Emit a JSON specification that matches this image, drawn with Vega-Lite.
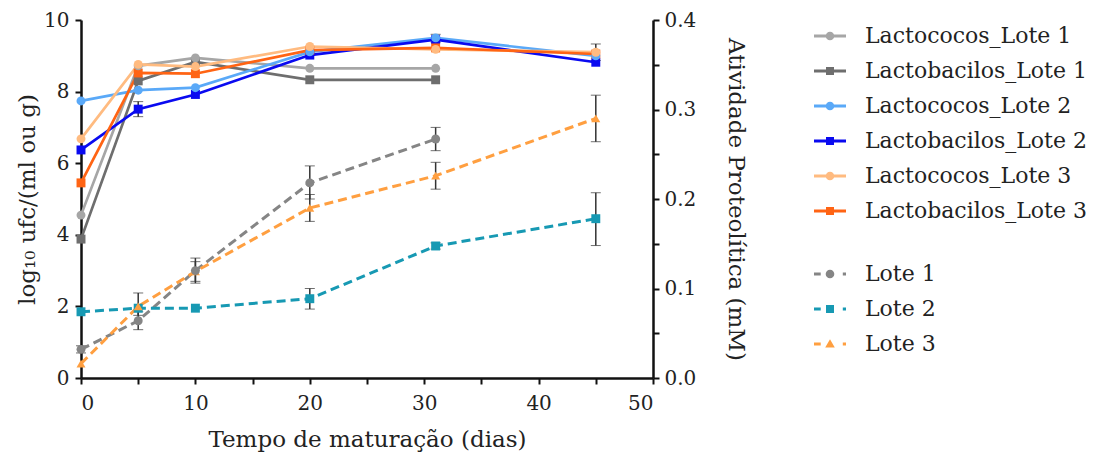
{
  "$schema": "https://vega.github.io/schema/vega-lite/v6.json",
  "width": 572,
  "height": 358,
  "autosize": {"type": "none"},
  "padding": {"left": 81, "top": 20, "right": 448, "bottom": 83},
  "background": "white",
  "config": {
    "font": "DejaVu Serif",
    "view": {"stroke": null},
    "axis": {
      "grid": false,
      "domainColor": "#111",
      "domainWidth": 2.5,
      "tickColor": "#111",
      "tickWidth": 2,
      "tickSize": 6,
      "labelFont": "DejaVu Serif",
      "labelFontSize": 20,
      "labelColor": "#222",
      "titleFont": "DejaVu Serif",
      "titleFontSize": 23,
      "titleFontWeight": "normal",
      "titleColor": "#222"
    },
    "legend": {
      "labelFont": "DejaVu Serif",
      "labelFontSize": 22,
      "labelColor": "#222",
      "labelLimit": 400,
      "symbolSize": 1024,
      "rowPadding": 8,
      "labelOffset": 19,
      "orient": "right",
      "offset": 67,
      "title": null,
      "layout": {"right": {"direction": "vertical", "anchor": "start", "margin": 36}}
    }
  },
  "datasets": {
    "bact": [
      {"series": "Lactococos_Lote 1", "day": 0, "v": 4.55},
      {"series": "Lactococos_Lote 1", "day": 5, "v": 8.72},
      {"series": "Lactococos_Lote 1", "day": 10, "v": 8.94},
      {"series": "Lactococos_Lote 1", "day": 20, "v": 8.65},
      {"series": "Lactococos_Lote 1", "day": 31, "v": 8.65},
      {"series": "Lactobacilos_Lote 1", "day": 0, "v": 3.88},
      {"series": "Lactobacilos_Lote 1", "day": 5, "v": 8.3},
      {"series": "Lactobacilos_Lote 1", "day": 10, "v": 8.83},
      {"series": "Lactobacilos_Lote 1", "day": 20, "v": 8.33},
      {"series": "Lactobacilos_Lote 1", "day": 31, "v": 8.33},
      {"series": "Lactococos_Lote 2", "day": 0, "v": 7.74},
      {"series": "Lactococos_Lote 2", "day": 5, "v": 8.04},
      {"series": "Lactococos_Lote 2", "day": 10, "v": 8.11},
      {"series": "Lactococos_Lote 2", "day": 20, "v": 9.11},
      {"series": "Lactococos_Lote 2", "day": 31, "v": 9.5, "lo": 9.38, "hi": 9.6},
      {"series": "Lactococos_Lote 2", "day": 45, "v": 9.0},
      {"series": "Lactobacilos_Lote 2", "day": 0, "v": 6.37},
      {"series": "Lactobacilos_Lote 2", "day": 5, "v": 7.51, "lo": 7.3, "hi": 7.72},
      {"series": "Lactobacilos_Lote 2", "day": 10, "v": 7.92},
      {"series": "Lactobacilos_Lote 2", "day": 20, "v": 9.02},
      {"series": "Lactobacilos_Lote 2", "day": 31, "v": 9.45},
      {"series": "Lactobacilos_Lote 2", "day": 45, "v": 8.82},
      {"series": "Lactococos_Lote 3", "day": 0, "v": 6.68},
      {"series": "Lactococos_Lote 3", "day": 5, "v": 8.76},
      {"series": "Lactococos_Lote 3", "day": 10, "v": 8.7},
      {"series": "Lactococos_Lote 3", "day": 20, "v": 9.26},
      {"series": "Lactococos_Lote 3", "day": 31, "v": 9.18},
      {"series": "Lactococos_Lote 3", "day": 45, "v": 9.1, "lo": 8.87, "hi": 9.33},
      {"series": "Lactobacilos_Lote 3", "day": 0, "v": 5.45},
      {"series": "Lactobacilos_Lote 3", "day": 5, "v": 8.52},
      {"series": "Lactobacilos_Lote 3", "day": 10, "v": 8.5},
      {"series": "Lactobacilos_Lote 3", "day": 20, "v": 9.16},
      {"series": "Lactobacilos_Lote 3", "day": 31, "v": 9.22},
      {"series": "Lactobacilos_Lote 3", "day": 45, "v": 9.05}
    ],
    "prot": [
      {"lote": "Lote 1", "day": 0, "v": 0.032, "lo": 0.028, "hi": 0.036},
      {"lote": "Lote 1", "day": 5, "v": 0.064, "lo": 0.054, "hi": 0.074},
      {"lote": "Lote 1", "day": 10, "v": 0.12, "lo": 0.106, "hi": 0.134},
      {"lote": "Lote 1", "day": 20, "v": 0.218, "lo": 0.2, "hi": 0.237},
      {"lote": "Lote 1", "day": 31, "v": 0.267, "lo": 0.254, "hi": 0.28},
      {"lote": "Lote 2", "day": 0, "v": 0.074},
      {"lote": "Lote 2", "day": 5, "v": 0.078},
      {"lote": "Lote 2", "day": 10, "v": 0.078},
      {"lote": "Lote 2", "day": 20, "v": 0.0886, "lo": 0.077, "hi": 0.1},
      {"lote": "Lote 2", "day": 31, "v": 0.1475, "lo": 0.144, "hi": 0.151},
      {"lote": "Lote 2", "day": 45, "v": 0.178, "lo": 0.148, "hi": 0.207},
      {"lote": "Lote 3", "day": 0, "v": 0.016},
      {"lote": "Lote 3", "day": 5, "v": 0.08, "lo": 0.07, "hi": 0.095},
      {"lote": "Lote 3", "day": 10, "v": 0.119, "lo": 0.108, "hi": 0.13},
      {"lote": "Lote 3", "day": 20, "v": 0.19, "lo": 0.175, "hi": 0.205},
      {"lote": "Lote 3", "day": 31, "v": 0.226, "lo": 0.211, "hi": 0.241},
      {"lote": "Lote 3", "day": 45, "v": 0.29, "lo": 0.264, "hi": 0.316}
    ]
  },
  "layer": [
    {
      "data": {"name": "bact"},
      "layer": [
        {
          "transform": [{"filter": "isValid(datum.lo)"}],
          "mark": {"type": "errorbar", "ticks": {"size": 10, "color": "#333", "strokeWidth": 1.5}, "rule": {"color": "#333", "strokeWidth": 1.5}},
          "encoding": {
            "x": {"field": "day", "type": "quantitative"},
            "y": {"field": "lo", "type": "quantitative", "title": "log₁₀ ufc/(ml ou g)"},
            "y2": {"field": "hi"}
          }
        },
        {
          "mark": {"type": "line", "strokeWidth": 2.7},
          "encoding": {
            "x": {"field": "day", "type": "quantitative"},
            "y": {"field": "v", "type": "quantitative", "title": "log₁₀ ufc/(ml ou g)"},
            "color": {"field": "series", "type": "nominal"},
            "detail": {"field": "series"}
          }
        },
        {
          "transform": [{"filter": "indexof(datum.series, 'Lactobacilos') >= 0"}],
          "mark": {"type": "point", "shape": "square", "filled": true, "size": 80, "opacity": 1},
          "encoding": {
            "x": {"field": "day", "type": "quantitative"},
            "y": {"field": "v", "type": "quantitative", "title": "log₁₀ ufc/(ml ou g)"},
            "color": {"field": "series", "type": "nominal"}
          }
        },
        {
          "transform": [{"filter": "indexof(datum.series, 'Lactococos') >= 0"}],
          "mark": {"type": "point", "shape": "circle", "filled": true, "size": 80, "opacity": 1},
          "encoding": {
            "x": {"field": "day", "type": "quantitative", "title": "Tempo de maturação (dias)", "scale": {"domain": [0, 50], "nice": false}, "axis": {"values": [0, 5, 10, 15, 20, 25, 30, 35, 40, 45, 50], "labelExpr": "datum.value % 10 == 0 ? datum.label : ''", "labelPadding": 9, "titlePadding": 15}},
            "y": {"field": "v", "type": "quantitative", "title": "log₁₀ ufc/(ml ou g)", "scale": {"domain": [0, 10], "nice": false}, "axis": {"values": [0, 1, 2, 3, 4, 5, 6, 7, 8, 9, 10], "labelExpr": "datum.value % 2 == 0 ? datum.label : ''", "labelPadding": 6, "titlePadding": 4}},
            "color": {
              "field": "series", "type": "nominal",
              "scale": {"domain": ["Lactococos_Lote 1", "Lactobacilos_Lote 1", "Lactococos_Lote 2", "Lactobacilos_Lote 2", "Lactococos_Lote 3", "Lactobacilos_Lote 3"], "range": ["#a6a6a6", "#6e6e6e", "#5aa9f8", "#0a0af0", "#ffbb80", "#ff6414"]},
              "legend": {
                "symbolSize": 1024,
                "encoding": {
                  "symbols": {
                    "shape": {"value": {"expr": "indexof(datum.value, 'Lactococos') >= 0 ? 'M-1,-0.09H1V0.09H-1Z M-0.27,0A0.27,0.27,0,1,1,0.27,0A0.27,0.27,0,1,1,-0.27,0Z' : 'M-1,-0.09H1V0.09H-1Z M-0.25,-0.25H0.25V0.25H-0.25Z'"}},
                    "size": {"value": 1024},
                    "strokeWidth": {"value": 0},
                    "fill": {"value": {"expr": "datum.value == 'Lactococos_Lote 1' ? '#a6a6a6' : datum.value == 'Lactobacilos_Lote 1' ? '#6e6e6e' : datum.value == 'Lactococos_Lote 2' ? '#5aa9f8' : datum.value == 'Lactobacilos_Lote 2' ? '#0a0af0' : datum.value == 'Lactococos_Lote 3' ? '#ffbb80' : '#ff6414'"}},
                    "opacity": {"value": 1}
                  }
                }
              }
            }
          }
        }
      ]
    },
    {
      "data": {"name": "prot"},
      "layer": [
        {
          "transform": [{"filter": "isValid(datum.lo)"}],
          "mark": {"type": "errorbar", "ticks": {"size": 10, "color": "#333", "strokeWidth": 1.5}, "rule": {"color": "#333", "strokeWidth": 1.5}},
          "encoding": {
            "x": {"field": "day", "type": "quantitative"},
            "y": {"field": "lo", "type": "quantitative", "title": "Atividade Proteolítica (mM)"},
            "y2": {"field": "hi"}
          }
        },
        {
          "mark": {"type": "line", "strokeWidth": 3, "strokeDash": [9, 5]},
          "encoding": {
            "x": {"field": "day", "type": "quantitative"},
            "y": {"field": "v", "type": "quantitative", "title": "Atividade Proteolítica (mM)"},
            "color": {"field": "lote", "type": "nominal"},
            "detail": {"field": "lote"}
          }
        },
        {
          "transform": [{"filter": "datum.lote == 'Lote 2'"}],
          "mark": {"type": "point", "shape": "square", "filled": true, "size": 80, "opacity": 1},
          "encoding": {
            "x": {"field": "day", "type": "quantitative"},
            "y": {"field": "v", "type": "quantitative", "title": "Atividade Proteolítica (mM)"},
            "color": {"field": "lote", "type": "nominal"}
          }
        },
        {
          "transform": [{"filter": "datum.lote == 'Lote 3'"}],
          "mark": {"type": "point", "shape": "triangle-up", "filled": true, "size": 80, "opacity": 1},
          "encoding": {
            "x": {"field": "day", "type": "quantitative"},
            "y": {"field": "v", "type": "quantitative", "title": "Atividade Proteolítica (mM)"},
            "color": {"field": "lote", "type": "nominal"}
          }
        },
        {
          "transform": [{"filter": "datum.lote == 'Lote 1'"}],
          "mark": {"type": "point", "shape": "circle", "filled": true, "size": 80, "opacity": 1},
          "encoding": {
            "x": {"field": "day", "type": "quantitative"},
            "y": {"field": "v", "type": "quantitative", "title": "Atividade Proteolítica (mM)", "scale": {"domain": [0, 0.4], "nice": false}, "axis": {"orient": "right", "values": [0, 0.05, 0.1, 0.15, 0.2, 0.25, 0.3, 0.35, 0.4], "format": ".1f", "labelExpr": "round(datum.value * 100) % 10 == 0 ? datum.label : ''", "labelPadding": 5, "titlePadding": 28}},
            "color": {
              "field": "lote", "type": "nominal",
              "scale": {"domain": ["Lote 1", "Lote 2", "Lote 3"], "range": ["#858585", "#1799b3", "#ff9f40"]},
              "legend": {
                "symbolSize": 1024,
                "encoding": {
                  "symbols": {
                    "shape": {"value": {"expr": "datum.value == 'Lote 1' ? 'M-1,-0.09H-0.58V0.09H-1Z M0.8,-0.09H1V0.09H0.8Z M-0.27,0A0.27,0.27,0,1,1,0.27,0A0.27,0.27,0,1,1,-0.27,0Z' : datum.value == 'Lote 2' ? 'M-1,-0.09H-0.58V0.09H-1Z M0.8,-0.09H1V0.09H0.8Z M-0.25,-0.25H0.25V0.25H-0.25Z' : 'M-1,-0.09H-0.58V0.09H-1Z M0.8,-0.09H1V0.09H0.8Z M0,-0.3L0.3,0.22H-0.3Z'"}},
                    "size": {"value": 1024},
                    "strokeWidth": {"value": 0},
                    "fill": {"value": {"expr": "datum.value == 'Lote 1' ? '#858585' : datum.value == 'Lote 2' ? '#1799b3' : '#ff9f40'"}},
                    "opacity": {"value": 1}
                  }
                }
              }
            }
          }
        }
      ]
    }
  ],
  "resolve": {"scale": {"y": "independent", "color": "independent"}}
}
